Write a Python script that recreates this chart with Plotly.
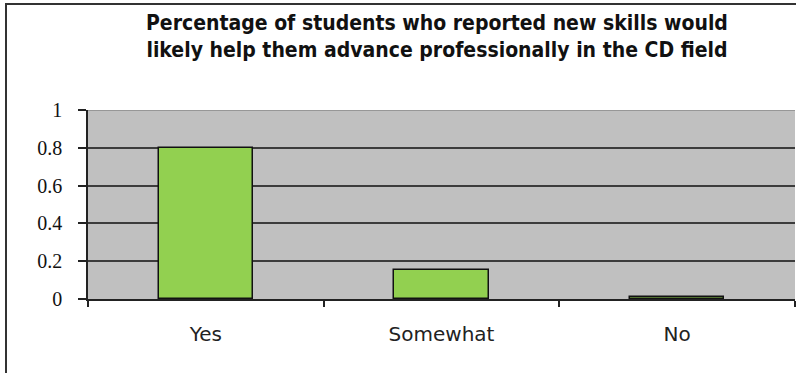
import plotly.graph_objects as go

categories = ["Yes", "Somewhat", "No"]
values = [0.80, 0.153, 0.01]
y_ticks = [0, 0.2, 0.4, 0.6, 0.8, 1]
y_tick_labels = ["0", "0.2", "0.4", "0.6", "0.8", "1"]
title_lines = ["Percentage of students who reported new skills would",
               "likely help them advance professionally in the CD field"]

W, H = 796, 373
L, R, T, B = 88, 1, 110, 74
pw, ph = W - L - R, H - T - B

def px_x(x):
    return (x - L) / pw

def px_y(y):
    return (H - B - y) / ph

fig = go.Figure(go.Bar(
    x=categories, y=values, width=0.40,
    marker=dict(color="#92d050", line=dict(color="#111111", width=1.5)),
))

fig.update_layout(
    width=W, height=H,
    margin=dict(l=L, r=R, t=T, b=B),
    paper_bgcolor="white",
    plot_bgcolor="#c0c0c0",
    showlegend=False,
    bargap=0,
    annotations=[dict(
        text="<b>" + title_lines[0] + "<br>" + title_lines[1] + "</b>",
        xref="paper", yref="paper", x=px_x(437), y=px_y(9),
        xanchor="center", yanchor="top", showarrow=False,
        font=dict(family="DejaVu Sans Condensed, DejaVu Sans", size=21, color="#111111"),
        align="center",
    )],
    shapes=[
        dict(type="rect", xref="paper", yref="paper",
             x0=px_x(6), x1=px_x(805), y0=px_y(4), y1=px_y(380),
             line=dict(color="#333333", width=2), fillcolor="rgba(0,0,0,0)", layer="above"),
        dict(type="line", xref="paper", yref="y", x0=0, x1=1, y0=1, y1=1,
             line=dict(color="#8a8a8a", width=1.5), layer="above"),
    ],
)

fig.update_yaxes(
    range=[0, 1], tickvals=y_ticks, ticktext=y_tick_labels,
    showgrid=True, gridcolor="#3c3c3c", gridwidth=1.5,
    showline=True, linecolor="#222222", linewidth=1.5,
    ticks="outside", ticklen=8, tickcolor="#222222", tickwidth=1.5,
    tickfont=dict(family="Liberation Serif", size=20, color="#111111"),
    ticklabelstandoff=12, zeroline=False, fixedrange=True,
)
fig.update_xaxes(
    showgrid=False, showline=True, linecolor="#222222", linewidth=1.5,
    ticks="outside", tickson="boundaries", ticklen=6, tickcolor="#222222", tickwidth=1.5,
    tickfont=dict(family="DejaVu Sans", size=20, color="#222222"),
    ticklabelstandoff=16, fixedrange=True,
)

fig.write_html("out.html", config={"displayModeBar": False},
               post_script="document.body.style.margin='0';document.body.style.padding='0';")
